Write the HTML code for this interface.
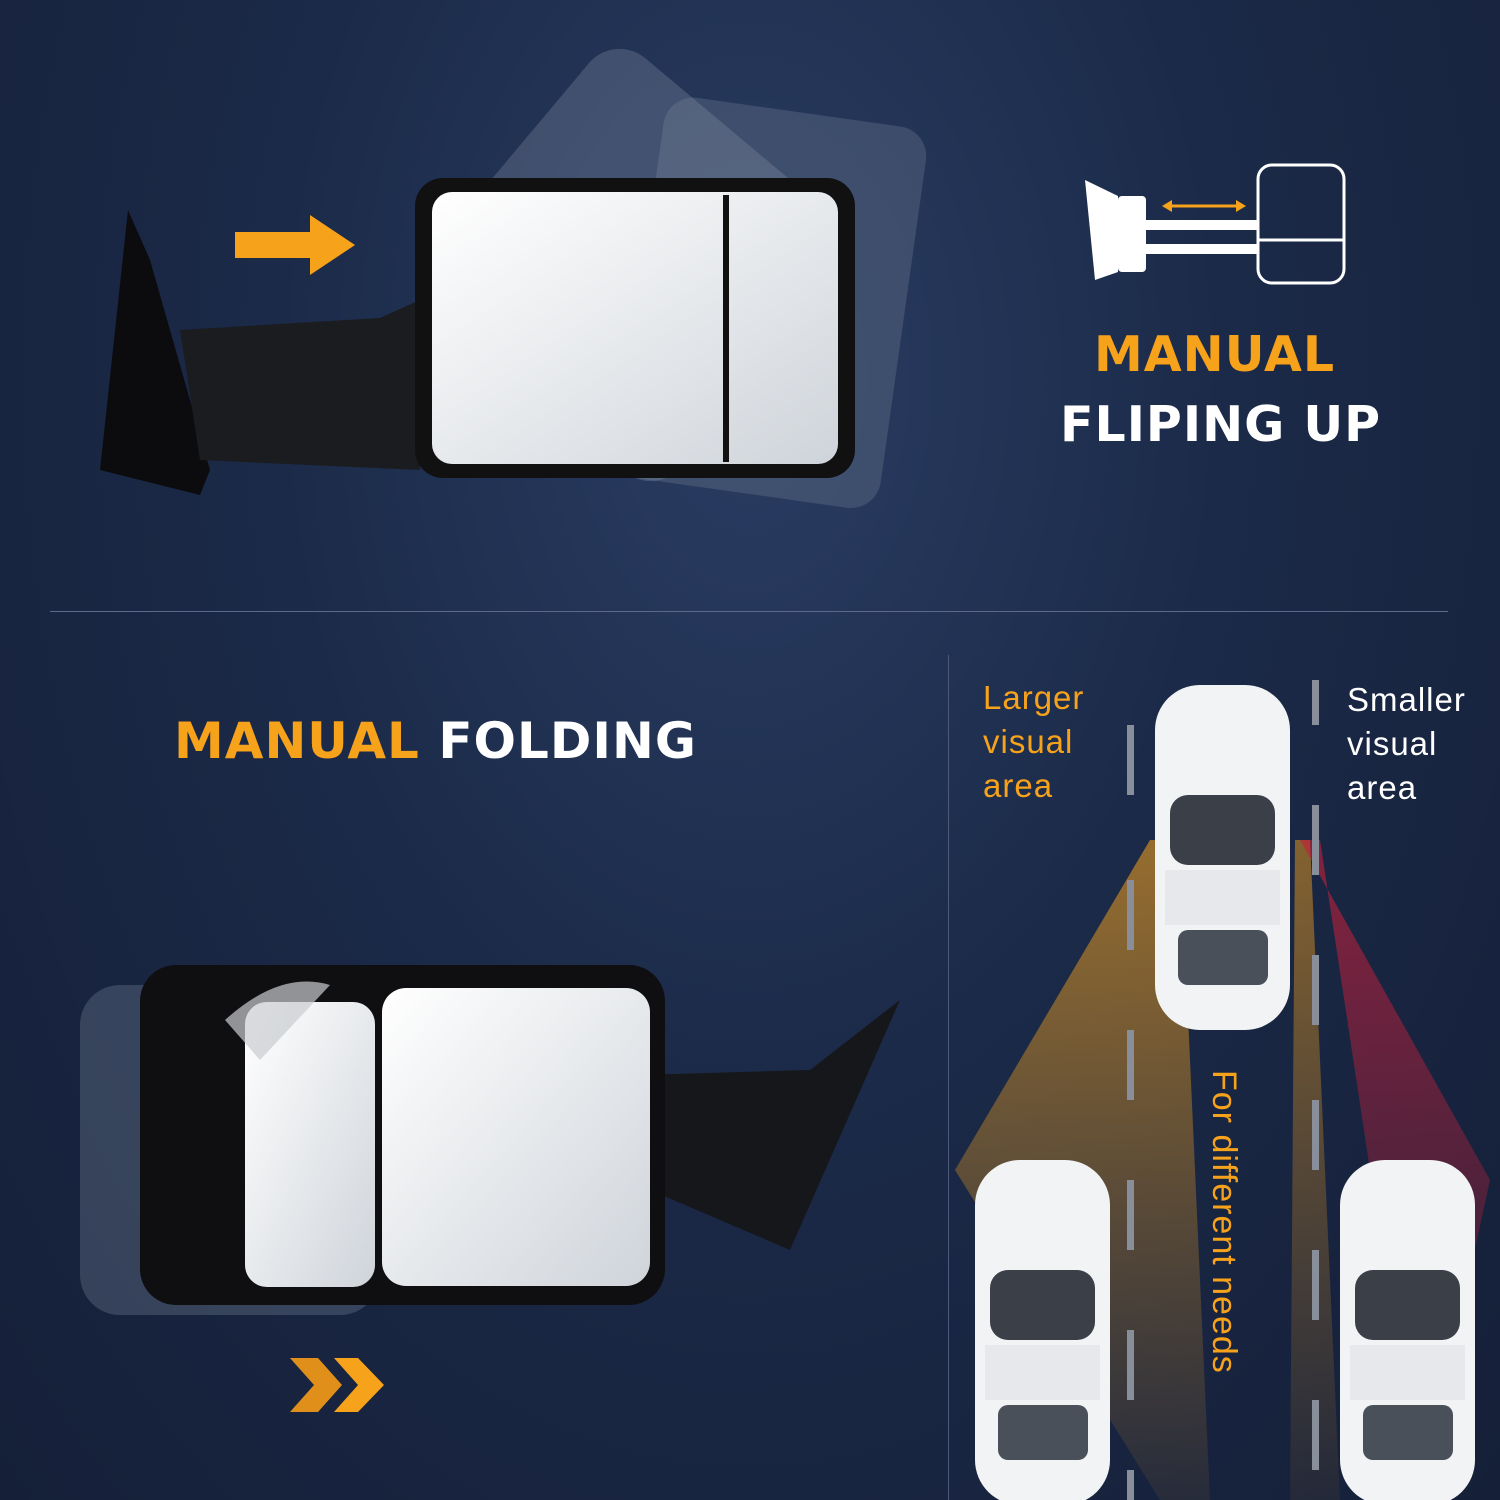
<!DOCTYPE html>
<html><head><meta charset="utf-8"><style>
html,body{margin:0;padding:0}
body{width:1500px;height:1500px;position:relative;overflow:hidden;
background:radial-gradient(ellipse at 50% 25%,#2a3d63 0%,#1b2a48 45%,#151f38 100%);
font-family:"Liberation Sans",sans-serif}
.h{position:absolute;font-weight:900;font-size:54px;letter-spacing:1px;white-space:nowrap;font-family:"DejaVu Sans","Liberation Sans",sans-serif}
.o{color:#f7a21b}.w{color:#fff}
.t{position:absolute;font-size:33px;line-height:44px;letter-spacing:1px}
</style></head><body>
<div style="position:absolute;left:50px;top:611px;width:1398px;height:1px;background:#5a6a88"></div>
<div style="position:absolute;left:948px;top:655px;width:1px;height:845px;background:#4a5a78"></div>

<div class="h o" style="left:1094px;top:326px;font-size:49px">MANUAL</div>
<div class="h w" style="left:1060px;top:396px;font-size:49px">FLIPING UP</div>
<div class="h" style="left:174px;top:712px;font-size:50px"><span class="o">MANUAL</span> <span class="w">FOLDING</span></div>

<div class="t o" style="left:983px;top:676px">Larger<br>visual<br>area</div>
<div class="t w" style="left:1347px;top:678px">Smaller<br>visual<br>area</div>
<div class="o" style="position:absolute;left:1225px;top:1070px;transform-origin:0 0;transform:translate(18px,0) rotate(90deg);font-size:34px;white-space:nowrap;letter-spacing:1px">For different needs</div>

<svg width="1500" height="1500" style="position:absolute;left:0;top:0">
<defs>
<linearGradient id="g" x1="0" y1="0" x2="1" y2="1"><stop offset="0" stop-color="#fff"/><stop offset="1" stop-color="#cfd4da"/></linearGradient>
<linearGradient id="ob" x1="0" y1="0" x2="0" y2="1"><stop offset="0" stop-color="#f7a21b" stop-opacity=".8"/><stop offset="1" stop-color="#f7a21b" stop-opacity=".1"/></linearGradient>
<linearGradient id="rb" x1="0" y1="0" x2="0" y2="1"><stop offset="0" stop-color="#c0203a" stop-opacity=".8"/><stop offset="1" stop-color="#c0203a" stop-opacity=".1"/></linearGradient>
</defs>
<polygon points="128,210 150,260 210,470 200,495 100,470" fill="#0c0c0e"/>
<path d="M180,330 L380,318 L420,300 L420,470 L200,460 Z" fill="#1b1c20"/>
<rect x="640" y="110" width="265" height="385" rx="30" fill="#6c7a90" opacity=".35" transform="rotate(8 770 300)"/>
<rect x="470" y="100" width="330" height="330" rx="40" fill="#8a96a8" opacity=".3" transform="rotate(40 635 265)"/>
<rect x="415" y="178" width="440" height="300" rx="28" fill="#111"/>
<rect x="432" y="192" width="406" height="272" rx="20" fill="url(#g)"/>
<line x1="726" y1="195" x2="726" y2="462" stroke="#111" stroke-width="6"/>
<polygon points="235,232 310,232 310,215 355,245 310,275 310,258 235,258" fill="#f7a21b"/>
<polygon points="1085,180 1118,196 1118,272 1095,280" fill="#fff"/>
<rect x="1118" y="196" width="28" height="76" rx="4" fill="#fff"/>
<rect x="1146" y="220" width="112" height="10" fill="#fff"/><rect x="1146" y="244" width="112" height="10" fill="#fff"/>
<rect x="1258" y="165" width="86" height="118" rx="14" fill="none" stroke="#fff" stroke-width="3"/>
<line x1="1258" y1="240" x2="1344" y2="240" stroke="#fff" stroke-width="3"/>
<line x1="1168" y1="206" x2="1240" y2="206" stroke="#f7a21b" stroke-width="3"/>
<polygon points="1162,206 1172,200 1172,212" fill="#f7a21b"/><polygon points="1246,206 1236,200 1236,212" fill="#f7a21b"/>
<rect x="80" y="985" width="300" height="330" rx="40" fill="#8a96a8" opacity=".28"/>
<path d="M640,1075 L810,1070 L900,1000 L790,1250 L650,1190 Z" fill="#16171b"/>
<rect x="140" y="965" width="525" height="340" rx="36" fill="#0f0f11"/>
<rect x="245" y="1002" width="130" height="285" rx="22" fill="url(#g)"/>
<rect x="382" y="988" width="268" height="298" rx="24" fill="url(#g)"/>
<path d="M225,1020 Q280,970 330,985 L260,1060 Z" fill="#c9ccd0" opacity=".7"/>
<polygon points="290,1358 318,1358 342,1385 318,1412 290,1412 314,1385" fill="#e0901a"/>
<polygon points="334,1358 358,1358 384,1385 358,1412 334,1412 358,1385" fill="#f7a21b"/>
<polygon points="1150,840 955,1170 1160,1500 1210,1500 1180,840" fill="url(#ob)" opacity=".7"/>
<polygon points="1295,840 1290,1500 1340,1500 1310,840" fill="url(#ob)" opacity=".6"/>
<polygon points="1300,840 1490,1180 1420,1500 1320,840" fill="url(#rb)" opacity=".8"/>
<g fill="#888e9a">
<rect x="1127" y="725" width="7" height="70"/><rect x="1127" y="880" width="7" height="70"/><rect x="1127" y="1030" width="7" height="70"/><rect x="1127" y="1180" width="7" height="70"/><rect x="1127" y="1330" width="7" height="70"/><rect x="1127" y="1470" width="7" height="30"/>
<rect x="1312" y="680" width="7" height="45"/><rect x="1312" y="805" width="7" height="70"/><rect x="1312" y="955" width="7" height="70"/><rect x="1312" y="1100" width="7" height="70"/><rect x="1312" y="1250" width="7" height="70"/><rect x="1312" y="1400" width="7" height="70"/>
</g>
<g id="car">
<rect x="1155" y="685" width="135" height="345" rx="45" fill="#f2f3f5"/>
<rect x="1170" y="795" width="105" height="70" rx="18" fill="#3a3f48"/>
<rect x="1178" y="930" width="90" height="55" rx="10" fill="#4a505a"/>
<rect x="1165" y="870" width="115" height="55" fill="#e6e8eb"/>
</g>
<g transform="translate(-180,475)"><use href="#car"/></g>
<g transform="translate(185,475)"><use href="#car"/></g>
</svg>
</body></html>
